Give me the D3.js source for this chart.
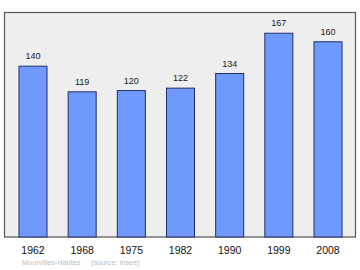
<!DOCTYPE html>
<html>
<head>
<meta charset="utf-8">
<script src="https://cdn.jsdelivr.net/npm/d3@7"></script>
<style>
body { margin: 0; background: #fff; }
svg { display: block; font-family: "Liberation Sans", Arial, sans-serif; }
</style>
</head>
<body>
<div id="chart"></div>
<script>
var width = 360;
var height = 270;

var years = ["1962", "1968", "1975", "1982", "1990", "1999", "2008"];
var population = [140, 119, 120, 122, 134, 167, 160];
var placeName = "Mourvilles-Hautes";
var sourceNote = "(source: Insee)";

var frame = {left: 4.5, top: 12.5, right: 355.5, bottom: 237};

var svg = d3.select("#chart")
    .append("svg")
    .attr("width", width)
    .attr("height", height);

var x = d3.scaleBand()
    .domain(years)
    .range([8.4, 352.6])
    .paddingInner(0.43)
    .paddingOuter(0.215);

var y = d3.scaleLinear()
    .domain([0, 184])
    .range([frame.bottom, frame.top]);

svg.append("rect")
    .attr("x", frame.left)
    .attr("y", frame.top)
    .attr("width", frame.right - frame.left)
    .attr("height", frame.bottom - frame.top)
    .attr("fill", "#eeeeee")
    .attr("stroke", "#555")
    .attr("stroke-width", 1.2);

var data = years.map(function(d, i) { return {year: d, value: population[i]}; });

svg.selectAll("rect.bar")
    .data(data)
    .enter()
    .append("rect")
    .attr("class", "bar")
    .attr("x", function(d) { return x(d.year); })
    .attr("y", function(d) { return y(d.value); })
    .attr("width", x.bandwidth())
    .attr("height", function(d) { return y(0) - y(d.value); })
    .attr("fill", "#7099ff")
    .attr("stroke", "#1f2f66")
    .attr("stroke-width", 1);

svg.selectAll("text.value")
    .data(data)
    .enter()
    .append("text")
    .attr("class", "value")
    .attr("x", function(d) { return x(d.year) + x.bandwidth() / 2; })
    .attr("y", function(d) { return y(d.value) - 7; })
    .attr("text-anchor", "middle")
    .attr("font-size", 9)
    .attr("fill", "#222")
    .text(function(d) { return d.value; });

var axis = d3.axisBottom(x).tickSize(0).tickPadding(0);
var gx = svg.append("g")
    .attr("transform", "translate(0," + frame.bottom + ")")
    .call(axis);
gx.select(".domain").remove();
gx.selectAll("text")
    .attr("dy", null)
    .attr("y", 17)
    .attr("font-size", 10.5)
    .attr("font-family", "Liberation Sans, Arial, sans-serif")
    .attr("fill", "#111");

var note = svg.append("text")
    .attr("y", 265)
    .attr("font-size", 7.3)
    .attr("fill", "#bbb");
note.append("tspan").attr("x", 22).text(placeName);
note.append("tspan").attr("x", 91).text(sourceNote);
</script>
</body>
</html>
